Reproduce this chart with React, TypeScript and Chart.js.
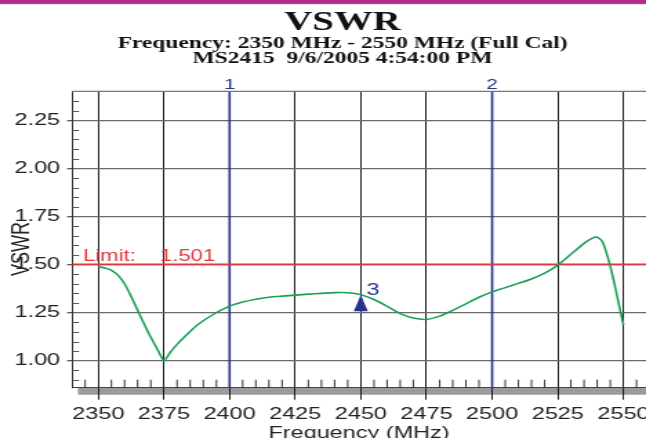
import React, { useEffect, useRef } from 'react';
import { Chart, registerables } from 'chart.js';

Chart.register(...registerables);

// ---------------- data ----------------
const freqMHz = [
  2350, 2352.5, 2355, 2357.5, 2360, 2362.5, 2365, 2367.5, 2370, 2372.5,
  2375, 2377.5, 2380, 2382.5, 2385, 2387.5, 2390, 2392.5, 2395, 2397.5,
  2400, 2405, 2410, 2415, 2420, 2425, 2430, 2435, 2440, 2445,
  2450, 2455, 2460, 2465, 2470, 2475, 2480, 2485, 2490, 2495,
  2500, 2505, 2510, 2515, 2520, 2525, 2530, 2535, 2538, 2540,
  2542, 2544, 2546, 2548, 2550,
];
const vswrValues = [
  1.488, 1.482, 1.470, 1.445, 1.400, 1.335, 1.262, 1.190, 1.122, 1.060,
  1.002, 1.045, 1.085, 1.120, 1.152, 1.183, 1.208, 1.230, 1.250, 1.268,
  1.284, 1.305, 1.320, 1.330, 1.336, 1.341, 1.346, 1.350, 1.354, 1.353,
  1.343, 1.318, 1.283, 1.245, 1.222, 1.215, 1.232, 1.262, 1.296, 1.330,
  1.358, 1.380, 1.402, 1.425, 1.455, 1.497, 1.553, 1.610, 1.636, 1.642,
  1.618, 1.540, 1.435, 1.310, 1.185,
];
const xTickValues = [2350, 2375, 2400, 2425, 2450, 2475, 2500, 2525, 2550];
const yTickValues = [1.0, 1.25, 1.5, 1.75, 2.0, 2.25];
const xRange = [2340, 2558.6];
const yRange = [0.86, 2.4];
const xMinorStep = 5;
const yMinorStep = 0.05;
const markerFreqs = [2400, 2500];
const markerNames = ['1', '2'];
const limitValue = 1.501;
const limitLabel = 'Limit:';
const limitValueLabel = '1.501';
const marker3Freq = 2450;
const marker3Vswr = 1.343;
const marker3Name = '3';
const titleText = 'VSWR';
const subtitleLines = [
  'Frequency: 2350 MHz - 2550 MHz (Full Cal)',
  'MS2415  9/6/2005 4:54:00 PM',
];
const xTitle = 'Frequency (MHz)';
const yTitle = 'VSWR';

// ---------------- layout ----------------
const W = 468; // internal canvas width (stretched to 646 by CSS)
const H = 438;
const CSS_W = 646;
const SANS = '"Liberation Sans", Arial, sans-serif';
const SERIF = '"Liberation Serif", "Times New Roman", serif';
const GREEN = '#1c9f57';
const RED = '#e0373f';
const BLUE = '#27318c';
const MAGENTA = '#b1298d';

const decorPlugin = {
  id: 'decor',
  beforeDraw(chart: any) {
    const { ctx, chartArea } = chart;
    const { left, right, bottom } = chartArea;
    ctx.save();
    ctx.fillStyle = MAGENTA;
    ctx.fillRect(0, 0, chart.width, 3);
    ctx.fillStyle = '#6a6a6a';
    ctx.fillRect(0, 3, chart.width, 1.2);
    ctx.fillStyle = '#9b9b9b';
    ctx.fillRect(left + 4.3, bottom, right - left - 4.3, 7);
    ctx.restore();
  },
  afterDraw(chart: any) {
    const { ctx, chartArea, scales } = chart;
    const { left, right, top, bottom } = chartArea;
    const xs = scales.x;
    const ys = scales.y;
    ctx.save();

    // top border
    ctx.strokeStyle = '#777';
    ctx.lineWidth = 1.2;
    ctx.beginPath();
    ctx.moveTo(left, top);
    ctx.lineTo(right, top);
    ctx.stroke();

    // minor ticks
    ctx.strokeStyle = '#333';
    ctx.lineWidth = 1;
    for (let f = xRange[0] + xMinorStep; f < xRange[1]; f += xMinorStep) {
      if (xTickValues.some((t) => Math.abs(t - f) < 1e-6)) continue;
      const px = xs.getPixelForValue(f);
      ctx.beginPath();
      ctx.moveTo(px, bottom);
      ctx.lineTo(px, bottom - 8);
      ctx.stroke();
    }
    ctx.strokeStyle = '#555';
    for (let v = 0.9; v < yRange[1] - 1e-6; v += yMinorStep) {
      if (yTickValues.some((t) => Math.abs(t - v) < 1e-6)) continue;
      const py = Math.round(ys.getPixelForValue(v)) + 0.5;
      ctx.beginPath();
      ctx.moveTo(left, py);
      ctx.lineTo(left + 5.1, py);
      ctx.stroke();
    }

    // titles
    const cx = 248.1;
    ctx.fillStyle = '#111';
    ctx.textAlign = 'center';
    ctx.textBaseline = 'alphabetic';
    ctx.font = `bold 28px ${SERIF}`;
    ctx.fillText(titleText, cx, 30);
    ctx.font = `bold 17px ${SERIF}`;
    ctx.fillText(subtitleLines[0], cx, 47.5);
    ctx.fillText(subtitleLines[1], cx, 63);

    // y title
    ctx.save();
    ctx.translate(15.9, 249);
    ctx.rotate(-Math.PI / 2);
    ctx.font = `18px ${SANS}`;
    ctx.fillStyle = '#222';
    ctx.textAlign = 'center';
    ctx.textBaseline = 'middle';
    ctx.fillText(yTitle, 0, 0);
    ctx.restore();

    // marker labels
    ctx.fillStyle = BLUE;
    ctx.font = `15px ${SANS}`;
    ctx.textAlign = 'center';
    markerFreqs.forEach((f, i) => {
      ctx.fillText(markerNames[i], xs.getPixelForValue(f), 89);
    });

    // limit label
    const ly = ys.getPixelForValue(limitValue);
    ctx.fillStyle = RED;
    ctx.font = `16px ${SANS}`;
    ctx.textAlign = 'left';
    ctx.fillText(limitLabel, left + 8, ly - 3);
    ctx.fillText(limitValueLabel, left + 63.7, ly - 3);

    // marker 3 triangle
    const tx = xs.getPixelForValue(marker3Freq);
    const ty = ys.getPixelForValue(marker3Vswr);
    ctx.fillStyle = BLUE;
    ctx.beginPath();
    ctx.moveTo(tx, ty);
    ctx.lineTo(tx + 5.1, ty + 16.5);
    ctx.lineTo(tx - 5.1, ty + 16.5);
    ctx.closePath();
    ctx.fill();
    ctx.font = `17px ${SANS}`;
    ctx.fillText(marker3Name, tx + 4.1, ty + 0.5);

    ctx.restore();
  },
};

export default function App() {
  const canvasRef = useRef<HTMLCanvasElement | null>(null);

  useEffect(() => {
    const canvas = canvasRef.current;
    if (!canvas) return;
    const chart = new Chart(canvas, {
      type: 'line',
      data: {
        datasets: [
          {
            label: 'VSWR',
            data: freqMHz.map((f, i) => ({ x: f, y: vswrValues[i] })),
            borderColor: GREEN,
            borderWidth: 1.6,
            pointRadius: 0,
            tension: 0.25,
            order: 0,
          },
          {
            label: 'Limit',
            data: [
              { x: xRange[0], y: limitValue },
              { x: xRange[1], y: limitValue },
            ],
            borderColor: RED,
            borderWidth: 1.8,
            pointRadius: 0,
            order: 1,
          },
          ...markerFreqs.map((f, i) => ({
            label: 'Marker ' + markerNames[i],
            data: [
              { x: f, y: yRange[0] },
              { x: f, y: yRange[1] },
            ],
            borderColor: BLUE,
            borderWidth: 1.6,
            pointRadius: 0,
            order: 2,
          })),
        ],
      },
      options: {
        animation: false,
        responsive: false,
        devicePixelRatio: 1,
        layout: { padding: { top: 91.3, left: 0, right: 0, bottom: 0 } },
        plugins: {
          legend: { display: false },
          tooltip: { enabled: false },
          title: { display: false },
        },
        scales: {
          x: {
            type: 'linear',
            min: xRange[0],
            max: xRange[1],
            afterBuildTicks: (s: any) => {
              s.ticks = xTickValues.map((value) => ({ value }));
            },
            afterFit: (s: any) => {
              s.height = 50.3;
              s.paddingLeft = 0;
              s.paddingRight = 0;
            },
            grid: {
              color: '#1c1c1c',
              lineWidth: 1,
              drawTicks: true,
              tickLength: 12,
              tickColor: '#1c1c1c',
            },
            border: { display: true, color: '#444', width: 1 },
            ticks: {
              padding: 4.8,
              color: '#222',
              font: { family: SANS, size: 17 },
              maxRotation: 0,
              autoSkip: false,
              callback: (v: any) => String(v),
            },
            title: {
              display: true,
              text: xTitle,
              color: '#222',
              font: { family: SANS, size: 17, lineHeight: 0.58 },
              padding: 0,
            },
          },
          y: {
            type: 'linear',
            min: yRange[0],
            max: yRange[1],
            afterBuildTicks: (s: any) => {
              s.ticks = yTickValues.map((value) => ({ value }));
            },
            afterFit: (s: any) => {
              s.width = 52.16;
              s.paddingTop = 0;
              s.paddingBottom = 0;
            },
            grid: {
              color: '#6a6a6a',
              lineWidth: 1.3,
              drawTicks: true,
              tickLength: 3.6,
              tickColor: '#555',
            },
            border: { display: true, color: '#333', width: 1 },
            ticks: {
              padding: 5,
              color: '#222',
              font: { family: SANS, size: 17 },
              callback: (v: any) => Number(v).toFixed(2),
            },
          },
        },
      } as any,
      plugins: [decorPlugin],
    });
    return () => chart.destroy();
  }, []);

  return (
    <div style={{ position: 'fixed', left: 0, top: 0, width: CSS_W, height: H, background: '#fff' }}>
      <canvas
        ref={canvasRef}
        width={W}
        height={H}
        style={{ width: CSS_W + 'px', height: H + 'px', display: 'block' }}
      />
    </div>
  );
}
